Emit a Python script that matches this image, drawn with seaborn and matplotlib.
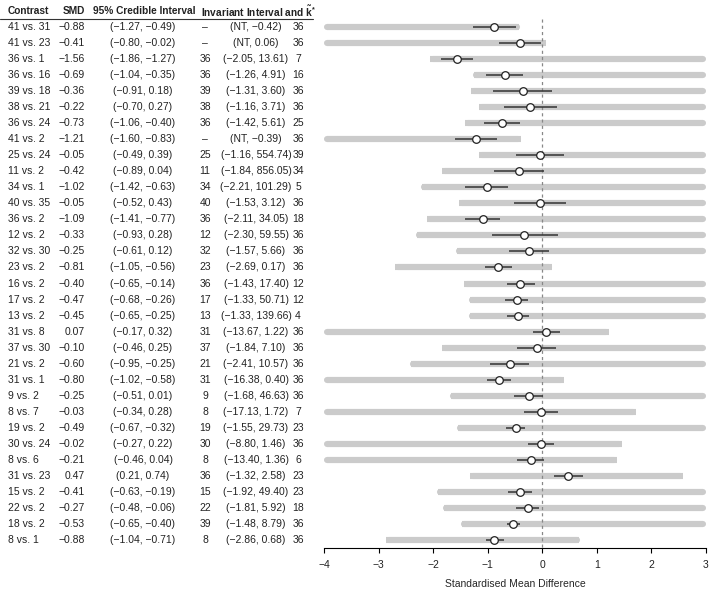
import numpy as np
import pandas as pd
import matplotlib
matplotlib.use("Agg")
import matplotlib.pyplot as plt
import matplotlib.transforms as mtrans
from matplotlib.lines import Line2D
import seaborn as sns

contrasts = ["41 vs. 31", "41 vs. 23", "36 vs. 1", "36 vs. 16", "39 vs. 18", "38 vs. 21",
             "36 vs. 24", "41 vs. 2", "25 vs. 24", "11 vs. 2", "34 vs. 1", "40 vs. 35",
             "36 vs. 2", "12 vs. 2", "32 vs. 30", "23 vs. 2", "16 vs. 2", "17 vs. 2",
             "13 vs. 2", "31 vs. 8", "37 vs. 30", "21 vs. 2", "31 vs. 1", "9 vs. 2",
             "8 vs. 7", "19 vs. 2", "30 vs. 24", "8 vs. 6", "31 vs. 23", "15 vs. 2",
             "22 vs. 2", "18 vs. 2", "8 vs. 1"]
smd = [-0.88, -0.41, -1.56, -0.69, -0.36, -0.22, -0.73, -1.21, -0.05, -0.42, -1.02, -0.05,
       -1.09, -0.33, -0.25, -0.81, -0.40, -0.47, -0.45, 0.07, -0.10, -0.60, -0.80, -0.25,
       -0.03, -0.49, -0.02, -0.21, 0.47, -0.41, -0.27, -0.53, -0.88]
cri_lo = [-1.27, -0.80, -1.86, -1.04, -0.91, -0.70, -1.06, -1.60, -0.49, -0.89, -1.42, -0.52,
          -1.41, -0.93, -0.61, -1.05, -0.65, -0.68, -0.65, -0.17, -0.46, -0.95, -1.02, -0.51,
          -0.34, -0.67, -0.27, -0.46, 0.21, -0.63, -0.48, -0.65, -1.04]
cri_hi = [-0.49, -0.02, -1.27, -0.35, 0.18, 0.27, -0.40, -0.83, 0.39, 0.04, -0.63, 0.43,
          -0.77, 0.28, 0.12, -0.56, -0.14, -0.26, -0.25, 0.32, 0.25, -0.25, -0.58, 0.01,
          0.28, -0.32, 0.22, 0.04, 0.74, -0.19, -0.06, -0.40, -0.71]
inv_node = ["–", "–", "36", "36", "39", "38", "36", "–", "25", "11", "34", "40",
            "36", "12", "32", "23", "36", "17", "13", "31", "37", "21", "31", "9",
            "8", "19", "30", "8", "36", "15", "22", "39", "8"]
# None = not attainable (NT), i.e. unbounded below
inv_lo = [None, None, -2.05, -1.26, -1.31, -1.16, -1.42, None, -1.16, -1.84, -2.21, -1.53,
          -2.11, -2.30, -1.57, -2.69, -1.43, -1.33, -1.33, -13.67, -1.84, -2.41, -16.38, -1.68,
          -17.13, -1.55, -8.80, -13.40, -1.32, -1.92, -1.81, -1.48, -2.86]
inv_hi = [-0.42, 0.06, 13.61, 4.91, 3.60, 3.71, 5.61, -0.39, 554.74, 856.05, 101.29, 3.12,
          34.05, 59.55, 5.66, 0.17, 17.40, 50.71, 139.66, 1.22, 7.10, 10.57, 0.40, 46.63,
          1.72, 29.73, 1.46, 1.36, 2.58, 49.40, 5.92, 8.79, 0.68]
k_star = [36, 36, 7, 16, 36, 36, 25, 36, 39, 34, 5, 36, 18, 36, 36, 36, 12, 12, 4, 36,
          36, 36, 36, 36, 7, 23, 36, 6, 23, 23, 18, 36, 36]
x_ticks = [-4, -3, -2, -1, 0, 1, 2, 3]

sns.set_theme(style="white")
plt.rcParams["font.family"] = ["Liberation Sans", "DejaVu Sans"]
plt.rcParams["mathtext.fontset"] = "custom"
plt.rcParams["mathtext.rm"] = "Liberation Sans"
plt.rcParams["mathtext.bf"] = "Liberation Sans:bold"
plt.rcParams["mathtext.it"] = "Liberation Sans:italic"

W, H = 709, 592
fig = plt.figure(figsize=(W / 100, H / 100), dpi=100)
ax = fig.add_axes([324 / W, 1 - 548 / H, (706 - 324) / W, (548 - 11) / H])

n = len(contrasts)
rows = np.arange(1, n + 1)
xmin, xmax = x_ticks[0], x_ticks[-1]

df = pd.DataFrame({"row": rows, "smd": smd, "lo": cri_lo, "hi": cri_hi})

# invariant interval bars (clipped to axis range)
bar_col = "#cbcbcb"
bar_lw = 4.4
r = 0.05
for i in range(n):
    y = rows[i]
    lo = inv_lo[i]
    hi = inv_hi[i]
    clipL = lo is None or lo < xmin
    clipR = hi > xmax
    lo_c = xmin if clipL else lo
    hi_c = xmax if clipR else hi
    a = lo_c + r if clipL else lo_c
    b = hi_c - r if clipR else hi_c
    ax.plot([a, b], [y, y], color=bar_col, lw=bar_lw, solid_capstyle="butt", zorder=1)
    ax.plot([lo_c + r, hi_c - r], [y, y], color=bar_col, lw=bar_lw,
            solid_capstyle="round", zorder=1)

# zero reference
ax.plot([0, 0], [0.5, n + 0.5], color="#888888", lw=0.9, ls=(0, (2.5, 2.5)), zorder=2)

# credible intervals
ax.hlines(df["row"], df["lo"], df["hi"], color="#333333", lw=1.1, zorder=3)
sns.scatterplot(data=df, x="smd", y="row", ax=ax, s=30, color="white",
                edgecolor="#222222", linewidth=0.9, zorder=4, legend=False)

ax.set_xlim(xmin, xmax)
ax.set_ylim(n + 0.5, 0)
ax.set_xticks(x_ticks)
ax.set_xticklabels([str(t).replace("-", "\u2212") for t in x_ticks], fontsize=7.5)
ax.set_yticks([])
ax.set_ylabel("")
ax.set_xlabel("Standardised Mean Difference", fontsize=7.5, labelpad=6)
for s in ["top", "left", "right"]:
    ax.spines[s].set_visible(False)
ax.spines["bottom"].set_color("black")
ax.spines["bottom"].set_linewidth(0.8)
ax.tick_params(axis="x", bottom=True, length=3.8, width=0.8, color="black",
               pad=5, labelcolor="#222222")
ax.patch.set_alpha(0)

# table
tr = mtrans.blended_transform_factory(fig.transFigure, ax.transData)
fs = 7.5
hfs = 7.3
tc = "#222222"

def fx(px):
    return px / W

def fmt(v):
    return f"{v:.2f}".replace("-", "\u2212")

hy = 0
ax.text(fx(8), hy, "Contrast", transform=tr, ha="left", va="center", fontsize=hfs,
        fontweight="bold", color=tc)
ax.text(fx(85), hy, "SMD", transform=tr, ha="right", va="center", fontsize=hfs,
        fontweight="bold", color=tc)
ax.text(fx(144), hy, "95% Credible Interval", transform=tr, ha="center", va="center",
        fontsize=hfs, fontweight="bold", color=tc)
ax.text(fx(201), hy, r"Invariant Interval and $\mathbf{\tilde{k}^{*}}$", transform=tr,
        ha="left", va="center", fontsize=hfs, fontweight="bold", color=tc)
ax.add_line(Line2D([0, fx(313)], [0.5, 0.5], transform=tr, color="#333333", lw=0.8,
                   clip_on=False))

for i in range(n):
    y = rows[i]
    ax.text(fx(8), y, contrasts[i], transform=tr, ha="left", va="center", fontsize=fs, color=tc)
    ax.text(fx(85), y, fmt(smd[i]), transform=tr, ha="right", va="center", fontsize=fs, color=tc)
    ax.text(fx(143), y, f"({fmt(cri_lo[i])}, {fmt(cri_hi[i])})", transform=tr,
            ha="center", va="center", fontsize=fs, color=tc)
    ax.text(fx(205), y, inv_node[i], transform=tr, ha="center", va="center", fontsize=fs, color=tc)
    lo_s = "NT" if inv_lo[i] is None else fmt(inv_lo[i])
    ax.text(fx(256), y, f"({lo_s}, {fmt(inv_hi[i])})", transform=tr,
            ha="center", va="center", fontsize=fs, color=tc)
    ax.text(fx(298), y, str(k_star[i]), transform=tr, ha="center", va="center",
            fontsize=fs, color=tc)

fig.savefig("out.png", dpi=100, facecolor="white")
